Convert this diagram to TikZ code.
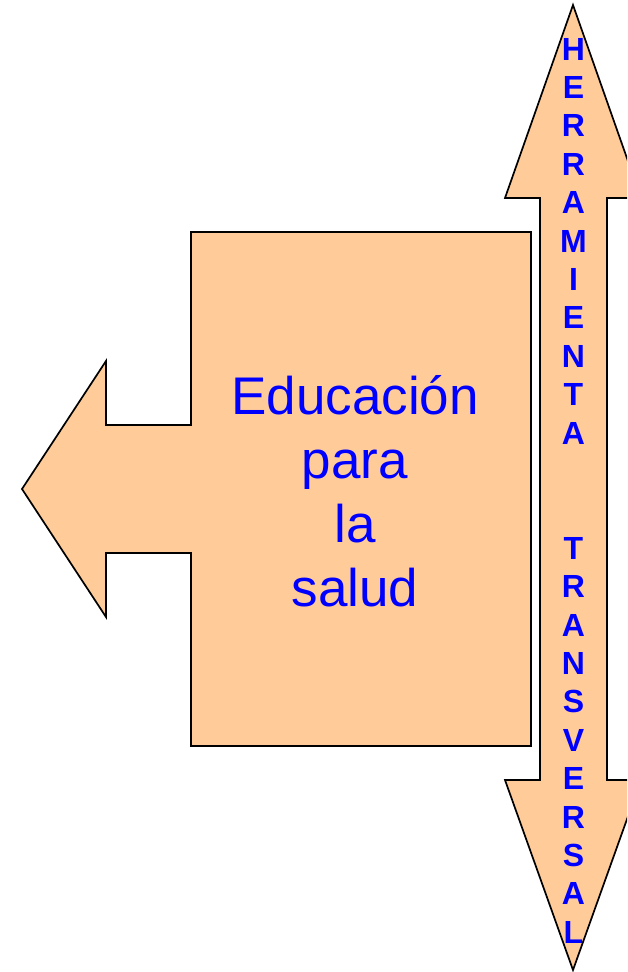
\documentclass[tikz,border=0pt]{standalone}
\usepackage{fontspec}
\setmainfont{Liberation Sans}
\definecolor{peach}{HTML}{FFCC99}
\definecolor{txtblue}{HTML}{0000FF}
\tikzset{
  shapebox/.style={draw=black, fill=peach, line width=1.7pt, line join=miter},
  maintext/.style={text=txtblue, align=center, inner sep=0pt, font=\fontsize{53}{64}\selectfont},
  letter/.style={text=txtblue, inner sep=0pt, anchor=base, font=\fontsize{32}{38}\selectfont\bfseries}
}
\begin{document}
\begin{tikzpicture}[x=1pt,y=-1pt]
\useasboundingbox (0,0) rectangle (627,972);
\clip (0,0) rectangle (627,972);
% left callout arrow
\path[shapebox] (191,232) -- (531,232) -- (531,746) -- (191,746) -- (191,553) -- (106,553)
  -- (106,617) -- (22,489) -- (106,361) -- (106,425) -- (191,425) -- cycle;
% vertical double arrow
\path[shapebox] (573,5) -- (641,198) -- (607,198) -- (607,780) -- (641,780) -- (573,970)
  -- (505,780) -- (540,780) -- (540,198) -- (505,198) -- cycle;
% main text
\node[maintext] (edu) at (355,491) {Educación\\para\\la\\salud};
% vertical letters
\foreach \l [count=\i from 0] in {H,E,R,R,A,M,I,E,N,T,A}
  \node[letter] (h\i) at (573.5,{60+\i*38.4}) {\l};
\foreach \l [count=\i from 13] in {T,R,A,N,S,V,E,R,S,A,L}
  \node[letter] (t\i) at (573.5,{60+\i*38.4}) {\l};
\end{tikzpicture}
\end{document}
